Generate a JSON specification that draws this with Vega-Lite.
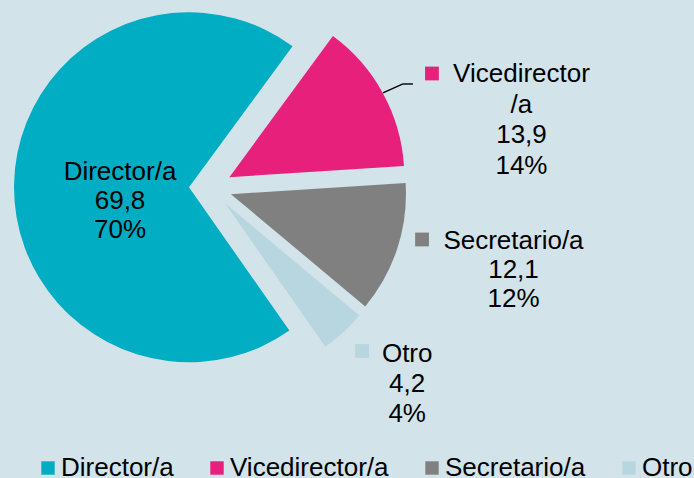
{
  "$schema": "https://vega.github.io/schema/vega-lite/v6.json",
  "width": 694,
  "height": 478,
  "padding": 0,
  "autosize": {"type": "none"},
  "background": "#d2e3ea",
  "config": {"view": {"stroke": null}},
  "data": {
    "values": [
      {"cat": "Director/a", "value": 69.8},
      {"cat": "Vicedirector/a", "value": 13.9},
      {"cat": "Secretario/a", "value": 12.1},
      {"cat": "Otro", "value": 4.2}
    ]
  },
  "transform": [
    {"window": [{"op": "sum", "field": "value", "as": "c1"}], "frame": [null, 0]},
    {"calculate": "datum.c1 - datum.value", "as": "c0"},
    {"calculate": "datum.c1 - datum.value / 2", "as": "mid"},
    {"calculate": "2.5307 + 2 * PI * datum.mid / 100", "as": "ang"},
    {"calculate": "sin(datum.ang)", "as": "ex"},
    {"calculate": "-cos(datum.ang)", "as": "ey"},
    {"calculate": "replace(format(datum.value, '.1f'), '.', ',')", "as": "vlab"},
    {"calculate": "format(datum.value / 100, '.0%')", "as": "plab"}
  ],
  "encoding": {
    "x": {"field": "ex", "type": "quantitative", "scale": {"domain": [-1, 1], "range": [189, 232], "zero": false, "nice": false}, "axis": null},
    "y": {"field": "ey", "type": "quantitative", "scale": {"domain": [-1, 1], "range": [166, 209], "zero": false, "nice": false}, "axis": null},
    "color": {
      "field": "cat",
      "type": "nominal",
      "scale": {
        "domain": ["Director/a", "Vicedirector/a", "Secretario/a", "Otro"],
        "range": ["#00adc3", "#e7207b", "#808080", "#b7d6e0"]
      },
      "legend": {
        "orient": "none",
        "legendX": 35,
        "legendY": 455,
        "direction": "horizontal",
        "title": null,
        "symbolType": "square",
        "symbolSize": 180,
        "symbolStrokeWidth": 0,
        "symbolOpacity": 1,
        "labelFontSize": 26,
        "labelFont": "Liberation Sans",
        "labelColor": "#000000",
        "labelOffset": 0,
        "labelLimit": 400,
        "columnPadding": 30,
        "padding": 0
      }
    }
  },
  "layer": [
    {
      "mark": {"type": "arc", "outerRadius": 175, "strokeWidth": 0},
      "encoding": {
        "theta": {"field": "c0", "type": "quantitative", "stack": null, "scale": {"domain": [0, 100], "range": [2.5307, 8.8139]}},
        "theta2": {"field": "c1"}
      }
    },
    {
      "transform": [{"filter": "datum.cat == 'Vicedirector/a'"}],
      "mark": {"type": "rule", "color": "#000000", "strokeWidth": 1.4, "xOffset": 153.6, "x2Offset": 173.6, "yOffset": -84.2, "y2Offset": -93.2},
      "encoding": {"x2": {"field": "ex"}, "y2": {"field": "ey"}, "color": {"value": "#000000"}}
    },
    {
      "transform": [{"filter": "datum.cat == 'Vicedirector/a'"}],
      "mark": {"type": "rule", "color": "#000000", "strokeWidth": 1.4, "xOffset": 173.6, "x2Offset": 183.6, "yOffset": -93.2, "y2Offset": -93.2},
      "encoding": {"x2": {"field": "ex"}, "y2": {"field": "ey"}, "color": {"value": "#000000"}}
    },
    {
      "transform": [{"filter": "datum.cat == 'Director/a'"}, {"calculate": "datum.cat + '|' + datum.vlab + '|' + datum.plab", "as": "t"}],
      "mark": {"type": "text", "radius": 69, "dx": 0, "dy": -14, "lineBreak": "|", "lineHeight": 29, "baseline": "middle", "align": "center", "fontSize": 26, "font": "Liberation Sans"},
      "encoding": {"theta": {"field": "mid", "type": "quantitative", "stack": null}, "text": {"field": "t"}, "color": {"value": "#000000"}}
    },
    {
      "transform": [{"filter": "datum.cat == 'Vicedirector/a'"}, {"calculate": "replace(datum.cat, '/', '|/') + '|' + datum.vlab + '|' + datum.plab", "as": "t"}],
      "mark": {"type": "text", "radius": 284, "dx": 43, "dy": 33.3, "lineBreak": "|", "lineHeight": 30.5, "baseline": "middle", "align": "center", "fontSize": 26, "font": "Liberation Sans"},
      "encoding": {"theta": {"field": "mid", "type": "quantitative", "stack": null}, "text": {"field": "t"}, "color": {"value": "#000000"}}
    },
    {
      "transform": [{"filter": "datum.cat == 'Secretario/a'"}, {"calculate": "datum.cat + '|' + datum.vlab + '|' + datum.plab", "as": "t"}],
      "mark": {"type": "text", "radius": 292, "dx": 5, "dy": -44.3, "lineBreak": "|", "lineHeight": 29.3, "baseline": "middle", "align": "center", "fontSize": 26, "font": "Liberation Sans"},
      "encoding": {"theta": {"field": "mid", "type": "quantitative", "stack": null}, "text": {"field": "t"}, "color": {"value": "#000000"}}
    },
    {
      "transform": [{"filter": "datum.cat == 'Otro'"}, {"calculate": "datum.cat + '|' + datum.vlab + '|' + datum.plab", "as": "t"}],
      "mark": {"type": "text", "radius": 256, "dx": 9, "dy": -37.8, "lineBreak": "|", "lineHeight": 29.8, "baseline": "middle", "align": "center", "fontSize": 26, "font": "Liberation Sans"},
      "encoding": {"theta": {"field": "mid", "type": "quantitative", "stack": null}, "text": {"field": "t"}, "color": {"value": "#000000"}}
    },
    {
      "transform": [{"filter": "datum.cat == 'Vicedirector/a'"}],
      "mark": {"type": "point", "shape": "square", "size": 190, "filled": true, "opacity": 1, "strokeWidth": 0, "xOffset": 202.6, "yOffset": -103.7}
    },
    {
      "transform": [{"filter": "datum.cat == 'Secretario/a'"}],
      "mark": {"type": "point", "shape": "square", "size": 190, "filled": true, "opacity": 1, "strokeWidth": 0, "xOffset": 191.1, "yOffset": 45.3}
    },
    {
      "transform": [{"filter": "datum.cat == 'Otro'"}],
      "mark": {"type": "point", "shape": "square", "size": 190, "filled": true, "opacity": 1, "strokeWidth": 0, "xOffset": 137.0, "yOffset": 147.7}
    }
  ]
}
